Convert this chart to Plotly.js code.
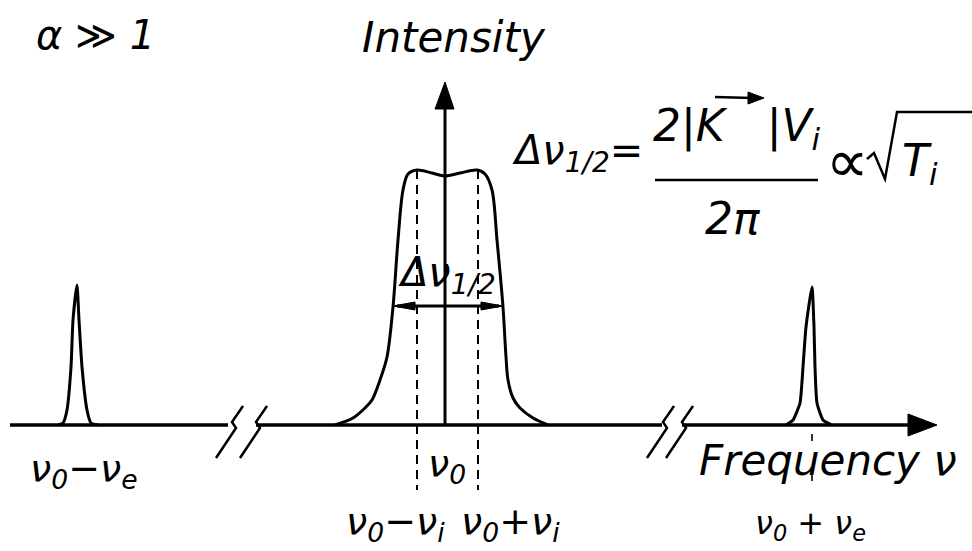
<!DOCTYPE html>
<html>
<head>
<meta charset="utf-8">
<script src="https://cdn.plot.ly/plotly-3.0.1.min.js"></script>
<style>html,body{margin:0;padding:0;background:#fff;}</style>
</head>
<body>
<div id="chart" style="width:972px;height:551px"></div>
<script>
// Schematic scattered spectrum for alpha >> 1:
// broad ion feature around nu0 and two narrow electron satellites at nu0 -/+ nu_e.
// Frequency and intensity are in arbitrary schematic units.

const centralFreq = [335, 353, 365, 372, 380, 387, 393, 398, 403, 408, 417, 432, 445, 460, 477, 485, 492, 497, 503, 506, 508, 513, 520, 533, 548];
const centralIntensity = [0, 7, 17, 25, 45, 68, 118, 185, 235, 251, 255, 252, 249, 252, 255, 251, 235, 185, 118, 68, 45, 27, 17, 7, 0];

const lowerSatFreq = [58, 63, 67, 71, 73, 77, 79, 82, 87, 91, 98];
const lowerSatIntensity = [0, 2, 15, 58, 105, 140, 105, 58, 15, 2, 0];

const upperSatFreq = [786, 793, 800, 803, 806, 812, 814, 815, 817, 823, 832];
const upperSatIntensity = [0, 5, 22, 58, 98, 138, 98, 58, 22, 5, 0];

const lineCentre = 445;          // nu0
const ionFreqs = [417, 478];     // nu0 - nu_i, nu0 + nu_i
const electronFreqs = [77, 812]; // nu0 - nu_e, nu0 + nu_e
const halfLevel = 119;           // level of the FWHM arrow
const halfWidthEdges = [393, 503];
const axisStart = 10;
const axisEnd = 937;
const axisBreaks = [234, 258, 665, 684];

const ionLabels = ['ν<sub>0</sub>−ν<sub><i>i</i></sub>', 'ν<sub>0</sub>+ν<sub><i>i</i></sub>'];
const electronLabels = ['ν<sub>0</sub>−ν<sub>e</sub>', 'ν<sub>0</sub> + ν<sub>e</sub>'];
const centreLabel = 'ν<sub>0</sub>';

const ink = '#000';
const FONT = {family: 'DejaVu Sans, sans-serif', color: ink, style: 'italic'};
function font(size) { return Object.assign({}, FONT, {size: size}); }

const profileLine = {color: ink, width: 3};
const traces = [
  {x: centralFreq, y: centralIntensity, mode: 'lines', line: Object.assign({shape: 'spline', smoothing: 0.9}, profileLine), hoverinfo: 'skip'},
  {x: lowerSatFreq, y: lowerSatIntensity, mode: 'lines', line: Object.assign({shape: 'spline', smoothing: 0.5}, profileLine), hoverinfo: 'skip'},
  {x: upperSatFreq, y: upperSatIntensity, mode: 'lines', line: Object.assign({shape: 'spline', smoothing: 0.5}, profileLine), hoverinfo: 'skip'}
];

function seg(x0, y0, x1, y1, w, dash) {
  return {type: 'line', x0: x0, y0: y0, x1: x1, y1: y1, line: {color: ink, width: w, dash: dash || 'solid'}};
}
function poly(pts) {
  const d = pts.map((p, i) => (i ? 'L' : 'M') + p[0] + ',' + p[1]).join(' ') + ' Z';
  return {type: 'path', path: d, fillcolor: ink, line: {color: ink, width: 1}};
}
function openPath(pts, w) {
  const d = pts.map((p, i) => (i ? 'L' : 'M') + p[0] + ',' + p[1]).join(' ');
  return {type: 'path', path: d, line: {color: ink, width: w}};
}
function bolt(cx) {
  return openPath([[cx + 9, 19], [cx - 2, 3], [cx + 2, -3], [cx - 18, -33]], 2.5);
}

const shapes = [];
// frequency axis with two breaks and an arrow head
shapes.push(seg(axisStart, 0, axisBreaks[0] - 6, 0, 3.5));
shapes.push(seg(axisBreaks[1] - 2, 0, axisBreaks[2] - 3, 0, 3.5));
shapes.push(seg(axisBreaks[3] - 2, 0, axisEnd - 26, 0, 3.5));
shapes.push(poly([[axisEnd - 29, 11], [axisEnd, 0], [axisEnd - 29, -11]]));
axisBreaks.forEach(b => shapes.push(bolt(b)));

// intensity axis through nu0
shapes.push(seg(lineCentre, 0, lineCentre, 318, 3));
shapes.push(poly([[lineCentre - 10, 316], [lineCentre, 343], [lineCentre + 9, 316]]));

// dashed markers at nu0 -/+ nu_i
ionFreqs.forEach(f => shapes.push(seg(f, 255, f, -65, 2, '9px,6px')));
// dashed tick at nu0 + nu_e
shapes.push(seg(electronFreqs[1], -9, electronFreqs[1], -70, 1.6, '7px,33px'));

// FWHM double arrow
shapes.push(seg(halfWidthEdges[0] + 4, halfLevel, halfWidthEdges[1] - 4, halfLevel, 3));
shapes.push(poly([[halfWidthEdges[0], halfLevel], [halfWidthEdges[0] + 22, halfLevel + 4], [halfWidthEdges[0] + 22, halfLevel - 4]]));
shapes.push(poly([[halfWidthEdges[1], halfLevel], [halfWidthEdges[1] - 22, halfLevel + 4], [halfWidthEdges[1] - 22, halfLevel - 4]]));

// formula decorations: fraction bar, vector arrow over K, radical sign
shapes.push(seg(655, 245, 818, 245, 2.5));
shapes.push(seg(715, 328, 752, 327, 2.5));
shapes.push(poly([[748, 333], [764, 327], [748, 321]]));
shapes.push(openPath([[867, 266], [874, 272], [885, 246], [897, 313], [972, 313]], 2.5));

function note(text, x, y, size, xanchor) {
  return {text: text, x: x, y: y, xref: 'x', yref: 'y', showarrow: false,
          xanchor: xanchor || 'center', yanchor: 'middle', font: font(size)};
}

const annotations = [
  note('α ≫ 1', 34, 390, 40, 'left'),
  note('Intensity', 360, 388, 42, 'left'),
  note('Δν<sub>1/2</sub>=', 645, 272, 40, 'right'),
  note('2|K   |V<sub>i</sub>', 737, 297, 44),
  note('2π', 733, 207, 44),
  note('∝', 824, 264, 60, 'left'),
  note('T<sub>i</sub>', 900, 262, 44, 'left'),
  note('Δν<sub>1/2</sub>', 396, 150, 40, 'left'),
  note(electronLabels[0], 28, -45, 38, 'left'),
  note(centreLabel, 447, -40, 38),
  note(ionLabels[0], ionFreqs[0] - 22, -98, 38),
  note(ionLabels[1], ionFreqs[1] + 32, -98, 38),
  note('Frequency ν', 697, -35, 42, 'left'),
  note(electronLabels[1], electronFreqs[1] - 2, -100, 32)
];

const layout = {
  width: 972, height: 551,
  margin: {l: 0, r: 0, t: 0, b: 0},
  paper_bgcolor: '#fff', plot_bgcolor: '#fff',
  showlegend: false,
  xaxis: {range: [0, 972], visible: false, fixedrange: true},
  yaxis: {range: [-126, 425], visible: false, fixedrange: true},
  shapes: shapes,
  annotations: annotations
};

Plotly.newPlot('chart', traces, layout, {staticPlot: true, displayModeBar: false});
</script>
</body>
</html>
